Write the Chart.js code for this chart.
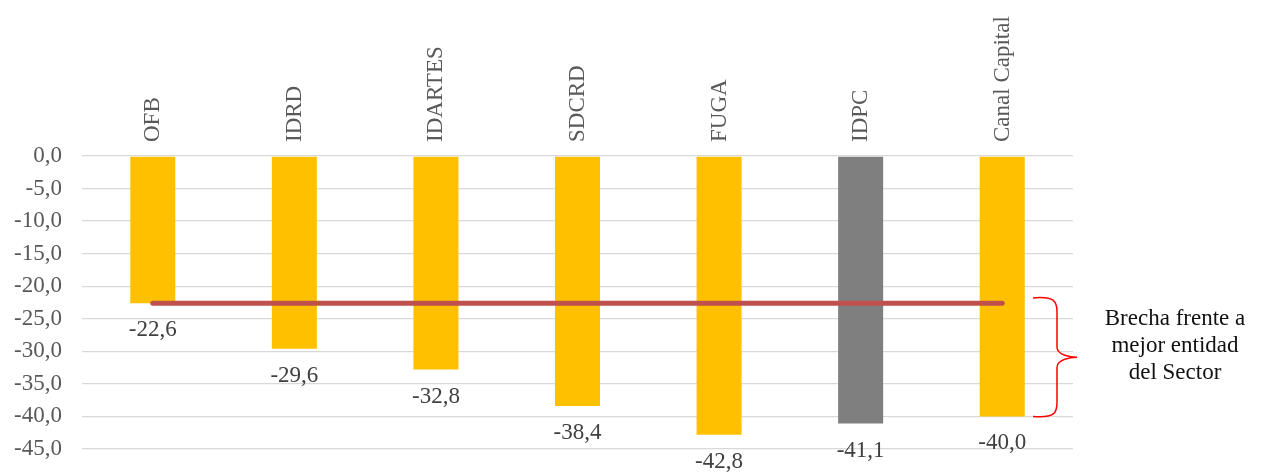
<!DOCTYPE html>
<html><head><meta charset="utf-8">
<script src="https://cdn.jsdelivr.net/npm/chart.js@4.4.0/dist/chart.umd.min.js"></script>
<style>html,body{margin:0;padding:0;background:#fff;}</style>
</head><body>
<canvas id="c" width="1264" height="472"></canvas>
<script>
const categories = ['OFB', 'IDRD', 'IDARTES', 'SDCRD', 'FUGA', 'IDPC', 'Canal Capital'];
const values = [-22.6, -29.6, -32.8, -38.4, -42.8, -41.1, -40.0];
const barColors = ['#FFC000', '#FFC000', '#FFC000', '#FFC000', '#FFC000', '#7F7F7F', '#FFC000'];
const benchmarkLine = [-22.6, -22.6, -22.6, -22.6, -22.6, -22.6, -22.6];
const yMin = -45, yMax = 0, yStep = 5;
const braceRange = [-21.8, -40.0];
const braceText = ['Brecha frente a', 'mejor entidad', 'del Sector'];

const FONT = '"Liberation Serif", "Times New Roman", serif';
Chart.defaults.font.family = FONT;
const fmt = v => v.toFixed(1).replace('.', ',');

const extras = {
  id: 'extras',
  afterDatasetsDraw(chart) {
    const ctx = chart.ctx;
    const meta = chart.getDatasetMeta(1);
    ctx.save();
    ctx.font = '23px ' + FONT;
    ctx.fillStyle = '#404040';
    ctx.textAlign = 'center';
    ctx.textBaseline = 'middle';
    meta.data.forEach((bar, i) => {
      ctx.fillText(fmt(values[i]), bar.x, bar.y + 27);
    });
    ctx.restore();
  },
  afterDraw(chart) {
    const ctx = chart.ctx;
    const ys = chart.scales.y;
    const r = chart.chartArea.right;
    const top = ys.getPixelForValue(braceRange[0]);
    const bot = ys.getPixelForValue(braceRange[1]);
    const mid = (top + bot) / 2;
    const xl = r - 40, xv = r - 16, xt = r + 4;
    ctx.save();
    ctx.strokeStyle = '#FF0000';
    ctx.lineWidth = 1.5;
    ctx.beginPath();
    ctx.moveTo(xl, top);
    ctx.bezierCurveTo(xv - 2, top - 2, xv, top + 4, xv, top + 14);
    ctx.lineTo(xv, mid - 10);
    ctx.bezierCurveTo(xv, mid - 2, xt - 6, mid, xt, mid);
    ctx.bezierCurveTo(xt - 6, mid, xv, mid + 2, xv, mid + 10);
    ctx.lineTo(xv, bot - 14);
    ctx.bezierCurveTo(xv, bot - 4, xv - 2, bot + 2, xl, bot);
    ctx.stroke();
    ctx.font = '23px ' + FONT;
    ctx.fillStyle = '#111111';
    ctx.textAlign = 'center';
    ctx.textBaseline = 'middle';
    const tx = r + 102;
    braceText.forEach((t, i) => ctx.fillText(t, tx, mid - 38 + i * 27));
    ctx.restore();
  }
};

new Chart(document.getElementById('c'), {
  data: {
    labels: categories,
    datasets: [
      {
        type: 'line',
        data: benchmarkLine,
        borderColor: '#C0504D',
        borderWidth: 5,
        borderCapStyle: 'round',
        pointRadius: 0,
        fill: false,
        order: 0
      },
      {
        type: 'bar',
        data: values,
        backgroundColor: barColors,
        borderWidth: 0,
        categoryPercentage: 1,
        barPercentage: 0.318,
        order: 1
      }
    ]
  },
  options: {
    responsive: false,
    animation: false,
    devicePixelRatio: 1,
    layout: { padding: { top: 0, left: 0, right: 191, bottom: 23 } },
    plugins: { legend: { display: false }, tooltip: { enabled: false } },
    scales: {
      x: {
        position: 'top',
        grid: { display: false, drawTicks: false },
        border: { display: false },
        ticks: {
          minRotation: 90, maxRotation: 90, padding: 14, labelOffset: 28,
          color: '#595959', font: { size: 23 }
        },
        afterFit(s) { s.height = 156; }
      },
      y: {
        min: yMin, max: yMax,
        grid: { color: '#D9D9D9', lineWidth: 1.3, drawTicks: false },
        border: { display: false },
        ticks: {
          stepSize: yStep, padding: 20, color: '#595959', font: { size: 23 },
          callback: v => fmt(v)
        },
        afterFit(s) { s.width = 82; s.paddingTop = 0; s.paddingBottom = 0; }
      }
    }
  },
  plugins: [extras]
});
</script>
</body></html>
